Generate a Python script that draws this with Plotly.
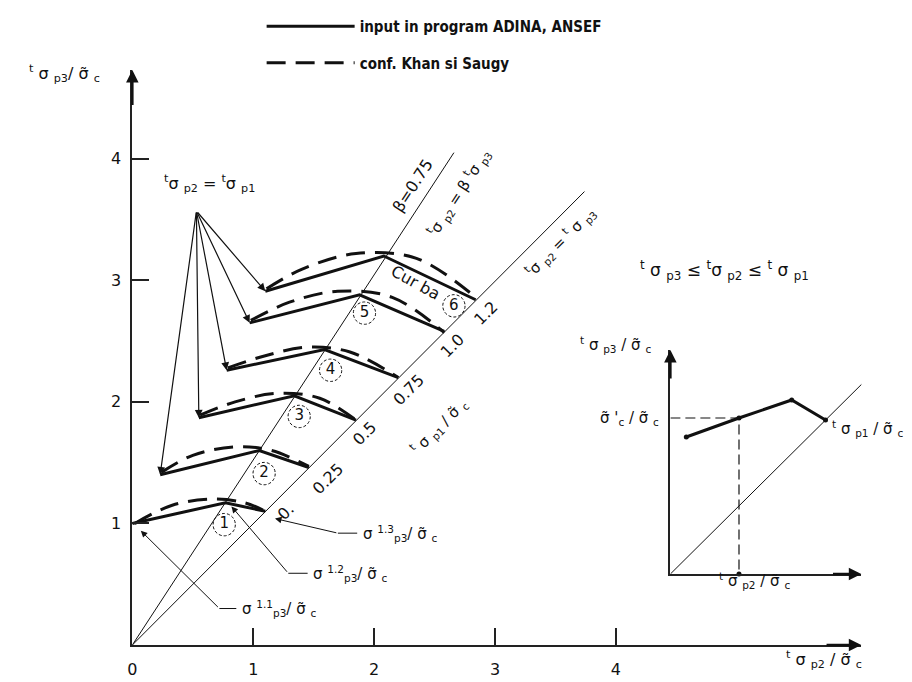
import plotly.graph_objects as go

# ---------------- data (units of sigma~c) ----------------
curve_numbers = ["1", "2", "3", "4", "5", "6"]
sigma_p1_labels = ["0.", "0.25", "0.5", "0.75", "1.0", "1.2"]

# solid curves ("input in program ADINA, ANSEF"): start -> peak (beta line) -> end (on p2 = p3 line)
start_x = [0.00, 0.23, 0.55, 0.78, 0.97, 1.10]
start_y = [1.00, 1.40, 1.87, 2.26, 2.65, 2.91]
peak_x = [0.77, 1.05, 1.34, 1.59, 1.88, 2.08]
peak_y = [1.17, 1.60, 2.05, 2.43, 2.88, 3.20]
end_xy = [1.10, 1.46, 1.85, 2.20, 2.58, 2.84]

# dashed curves ("conf. Khan si Saugy")
khan_x = [
    [0.02, 0.33, 0.66, 0.93, 1.10],
    [0.24, 0.50, 0.85, 1.15, 1.46],
    [0.56, 0.85, 1.20, 1.55, 1.85],
    [0.79, 1.10, 1.45, 1.80, 2.20],
    [0.98, 1.30, 1.70, 2.15, 2.58],
    [1.11, 1.40, 1.85, 2.35, 2.84],
]
khan_y = [
    [1.00, 1.15, 1.20, 1.17, 1.10],
    [1.42, 1.56, 1.63, 1.60, 1.47],
    [1.89, 2.00, 2.07, 2.03, 1.85],
    [2.28, 2.38, 2.45, 2.41, 2.20],
    [2.67, 2.82, 2.91, 2.86, 2.57],
    [2.93, 3.09, 3.22, 3.18, 2.86],
]

# common apex point tsp2 = tsp1
apex = (0.53, 3.57)
# reference lines from origin
eq_line_end = (3.74, 3.73)      # tsp2 = tsp3
beta_line_end = (2.66, 4.05)    # tsp2 = beta tsp3, beta = 0.75

# axis ticks
x_ticks = [0, 1, 2, 3, 4]
y_ticks = [1, 2, 3, 4]
x_max, y_max = 6.03, 4.73

# inset (schematic)
inset_x = [0.16, 0.69, 1.22, 1.56]
inset_y = [1.37, 1.56, 1.74, 1.54]
inset_diag_end = (2.26, 2.23)
inset_xmax, inset_ymax = 1.92, 2.24

# ---------------- figure ----------------
W, H = 912, 682
BLACK = "#111111"
FAM = "DejaVu Sans"
TXT = dict(family=FAM, size=15, color=BLACK)
TXT_L = dict(family=FAM, size=16, color=BLACK)

fig = go.Figure()

# solid curves
sx, sy = [], []
for i in range(len(curve_numbers)):
    sx += [start_x[i], peak_x[i], end_xy[i], None]
    sy += [start_y[i], peak_y[i], end_xy[i], None]
fig.add_trace(go.Scatter(x=sx, y=sy, mode="lines", name="input in program ADINA, ANSEF",
                         line=dict(color=BLACK, width=3), cliponaxis=False, legendgroup="a"))

# dashed curves
dx, dy = [], []
for xs, ys in zip(khan_x, khan_y):
    dx += xs + [None]
    dy += ys + [None]
fig.add_trace(go.Scatter(x=dx, y=dy, mode="lines", name="conf. Khan si Saugy",
                         line=dict(color=BLACK, width=3, dash="19px,10px", shape="spline", smoothing=1.0),
                         cliponaxis=False, legendgroup="b"))

# thin reference lines
fig.add_trace(go.Scatter(x=[0, eq_line_end[0], None, 0, beta_line_end[0]],
                         y=[0, eq_line_end[1], None, 0, beta_line_end[1]],
                         mode="lines", line=dict(color=BLACK, width=1), showlegend=False,
                         cliponaxis=False, hoverinfo="skip"))

# circles with curve numbers
circle_x = [0.76, 1.09, 1.38, 1.64, 1.92, 2.66]
circle_y = [0.99, 1.41, 1.88, 2.26, 2.73, 2.79]
r = 0.092
for cx, cy in zip(circle_x, circle_y):
    fig.add_shape(type="circle", xref="x", yref="y", x0=cx - r, x1=cx + r, y0=cy - r, y1=cy + r,
                  line=dict(color=BLACK, width=1, dash="3px,2px"))
fig.add_trace(go.Scatter(x=circle_x, y=circle_y, mode="text", text=curve_numbers,
                         textfont=dict(family=FAM, size=15, color=BLACK),
                         showlegend=False, cliponaxis=False, hoverinfo="skip"))

# arrows from apex to curve starts
for i in range(1, len(curve_numbers)):
    fig.add_annotation(x=start_x[i], y=start_y[i], ax=apex[0], ay=apex[1], xref="x", yref="y",
                       axref="x", ayref="y", text="", showarrow=True, arrowhead=2, arrowsize=1.3,
                       arrowwidth=1.2, arrowcolor=BLACK, standoff=0)

# labels along p2 = p3 line
p1_label_x = [1.27, 1.62, 1.92, 2.29, 2.65, 2.92]
p1_label_y = [1.10, 1.37, 1.74, 2.10, 2.46, 2.73]
for lab, lx, ly in zip(sigma_p1_labels, p1_label_x, p1_label_y):
    fig.add_annotation(x=lx, y=ly, xref="x", yref="y", text=lab, showarrow=False,
                       textangle=-45, font=TXT_L)

fig.add_annotation(x=2.53, y=1.80, xref="x", yref="y", showarrow=False, textangle=-45, font=TXT,
                   text="<sup>t</sup> σ <sub>p1</sub> / σ̃ <sub>c</sub>")
fig.add_annotation(x=3.54, y=3.32, xref="x", yref="y", showarrow=False, textangle=-45, font=TXT,
                   text="<sup>t</sup>σ <sub>p2</sub> = <sup>t</sup> σ <sub>p3</sub>")
fig.add_annotation(x=2.32, y=3.78, xref="x", yref="y", showarrow=False, textangle=-57,
                   font=TXT_L, text="β=0.75")
fig.add_annotation(x=2.70, y=3.72, xref="x", yref="y", showarrow=False, textangle=-57, font=TXT,
                   text="<sup>t</sup>σ <sub>p2</sub> = β <sup>t</sup>σ <sub>p3</sub>")
fig.add_annotation(x=2.34, y=2.98, xref="x", yref="y", showarrow=False, textangle=29,
                   font=TXT_L, text="Cur ba")
fig.add_annotation(x=0.64, y=3.80, xref="x", yref="y", showarrow=False, font=TXT_L,
                   text="<sup>t</sup>σ <sub>p2</sub> = <sup>t</sup>σ <sub>p1</sub>")

# sigma^{1.x} leader lines and labels
leaders = [
    # (head x, head y, elbow x, elbow y, label x, text)
    (0.07, 0.94, 0.72, 0.30, 0.89, "σ <sup>1.1</sup><sub>p3</sub>/ σ̃ <sub>c</sub>"),
    (0.82, 1.14, 1.29, 0.59, 1.48, "σ <sup>1.2</sup><sub>p3</sub>/ σ̃ <sub>c</sub>"),
    (1.18, 1.04, 1.70, 0.92, 1.89, "σ <sup>1.3</sup><sub>p3</sub>/ σ̃ <sub>c</sub>"),
]
for hx, hy, ex, ey, lx, lab in leaders:
    fig.add_annotation(x=hx, y=hy, ax=ex, ay=ey, xref="x", yref="y", axref="x", ayref="y",
                       text="", showarrow=True, arrowhead=2, arrowsize=1.3, arrowwidth=1,
                       arrowcolor=BLACK, standoff=0)
    fig.add_shape(type="line", xref="x", yref="y", x0=ex, y0=ey, x1=lx - 0.03, y1=ey,
                  line=dict(color=BLACK, width=1))
    fig.add_annotation(x=lx, y=ey, xref="x", yref="y", text=lab, showarrow=False,
                       xanchor="left", font=TXT)

# main axis arrowheads
fig.add_annotation(x=x_max, y=0, ax=x_max - 0.3, ay=0, xref="x", yref="y", axref="x", ayref="y",
                   text="", showarrow=True, arrowhead=2, arrowsize=1, arrowwidth=2.5,
                   arrowcolor=BLACK, standoff=0)
fig.add_annotation(x=0, y=y_max, ax=0, ay=y_max - 0.3, xref="x", yref="y", axref="x", ayref="y",
                   text="", showarrow=True, arrowhead=2, arrowsize=1, arrowwidth=2.5,
                   arrowcolor=BLACK, standoff=0)

# axis titles and condition (paper positions)
fig.add_annotation(x=14 / W, y=1 - 52 / H, xref="paper", yref="paper", showarrow=False, font=TXT_L,
                   xanchor="left", text="<sup>t</sup> σ <sub>p3</sub>/ σ̃ <sub>c</sub>")
fig.add_annotation(x=775 / W, y=1 - 665 / H, xref="paper", yref="paper", showarrow=False, font=TXT_L,
                   xanchor="left", text="<sup>t</sup> σ <sub>p2</sub> / σ̃ <sub>c</sub>")
fig.add_annotation(x=628 / W, y=1 - 262 / H, xref="paper", yref="paper", showarrow=False,
                   xanchor="left", font=dict(family=FAM, size=17, color=BLACK),
                   text="<sup>t</sup> σ <sub>p3</sub> ≤ <sup>t</sup>σ <sub>p2</sub> ≤ <sup>t</sup> σ <sub>p1</sub>")

# ---------------- inset ----------------
fig.add_trace(go.Scatter(x=[0, inset_diag_end[0]], y=[0, inset_diag_end[1]], mode="lines",
                         line=dict(color=BLACK, width=1), xaxis="x2", yaxis="y2",
                         showlegend=False, cliponaxis=False, hoverinfo="skip"))
fig.add_trace(go.Scatter(x=[0, inset_x[1], inset_x[1]], y=[inset_y[1], inset_y[1], 0], mode="lines",
                         line=dict(color=BLACK, width=1.2, dash="10px,5px"), xaxis="x2", yaxis="y2",
                         showlegend=False, cliponaxis=False, hoverinfo="skip"))
fig.add_trace(go.Scatter(x=inset_x, y=inset_y, mode="lines+markers",
                         line=dict(color=BLACK, width=3), marker=dict(size=5, color=BLACK),
                         xaxis="x2", yaxis="y2", showlegend=False, cliponaxis=False, hoverinfo="skip"))
fig.add_trace(go.Scatter(x=[inset_x[1]], y=[0], mode="markers", marker=dict(size=5, color=BLACK),
                         xaxis="x2", yaxis="y2", showlegend=False, cliponaxis=False, hoverinfo="skip"))
for (hx, hy, tx, ty) in [(inset_xmax, 0, inset_xmax - 0.3, 0), (0, inset_ymax, 0, inset_ymax - 0.3)]:
    fig.add_annotation(x=hx, y=hy, ax=tx, ay=ty, xref="x2", yref="y2", axref="x2", ayref="y2",
                       text="", showarrow=True, arrowhead=2, arrowsize=1, arrowwidth=2.5,
                       arrowcolor=BLACK, standoff=0)

# inset labels (paper positions)
inset_labels = [
    ("σ̃ '<sub>c</sub> / σ̃ <sub>c</sub>", 652, 410, "right"),
    ("<sup>t</sup> σ <sub>p1</sub> / σ̃ <sub>c</sub>", 822, 420, "left"),
    ("<sup>t</sup> σ <sub>p2</sub> / σ̃ <sub>c</sub>", 746, 585, "center"),
    ("<sup>t</sup> σ <sub>p3</sub> / σ̃ <sub>c</sub>", 606, 336, "center"),
]
for txt, px, py, anc in inset_labels:
    fig.add_annotation(x=px / W, y=1 - py / H, xref="paper", yref="paper", showarrow=False,
                       xanchor=anc, font=TXT, text=txt)

# ---------------- layout ----------------
axis_common = dict(showgrid=False, zeroline=False, showline=True, linecolor="#222222", linewidth=2)
fig.update_layout(
    width=W, height=H, margin=dict(l=0, r=0, t=0, b=0),
    paper_bgcolor="white", plot_bgcolor="rgba(0,0,0,0)",
    showlegend=True,
    legend=dict(x=250 / W, y=1 - 2 / H, xanchor="left", yanchor="top", itemwidth=88,
                tracegroupgap=14, bgcolor="rgba(0,0,0,0)",
                font=dict(family="Liberation Sans Narrow, DejaVu Sans Condensed, Arial Narrow, sans-serif",
                          size=15, color=BLACK, weight="bold")),
    xaxis=dict(domain=[120 / W, 853 / W], range=[0, x_max], tickvals=x_ticks,
               ticktext=[str(v) for v in x_ticks], ticks="inside", ticklen=17, tickwidth=1.5,
               tickcolor="#222222", ticklabelstandoff=9, tickfont=dict(family=FAM, size=16, color=BLACK),
               **axis_common),
    yaxis=dict(domain=[45 / H, 620 / H], range=[0, y_max], tickvals=y_ticks,
               ticktext=[str(v) for v in y_ticks], ticks="inside", ticklen=17, tickwidth=1.5,
               tickcolor="#222222", ticklabelstandoff=6, tickfont=dict(family=FAM, size=16, color=BLACK),
               **axis_common),
    xaxis2=dict(domain=[661 / W, 853 / W], range=[0, inset_xmax], anchor="y2", showticklabels=False,
                ticks="", **{**axis_common, "linewidth": 1.5}),
    yaxis2=dict(domain=[116 / H, 340 / H], range=[0, inset_ymax], anchor="x2", showticklabels=False,
                ticks="", **{**axis_common, "linewidth": 1.5}),
)

fig.write_html("out.html")
